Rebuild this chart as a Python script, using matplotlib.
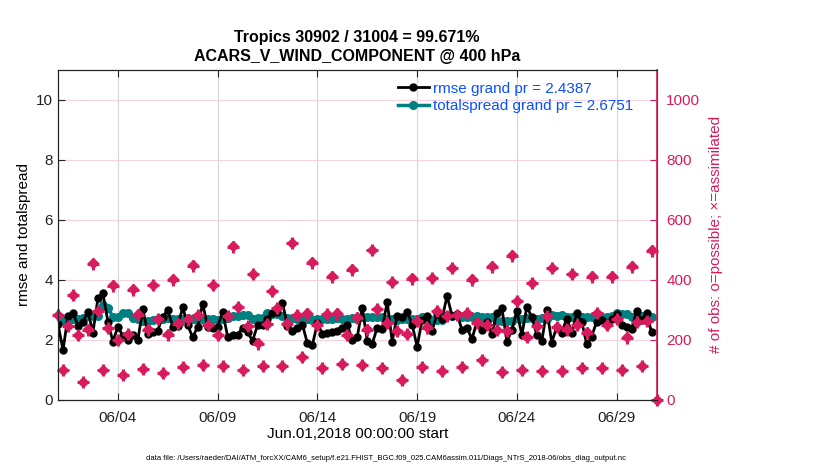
#!/usr/bin/env python3

import matplotlib
matplotlib.use("Agg")
import matplotlib.pyplot as plt
import matplotlib.dates as mdates
import numpy as np
import pandas as pd

plt.rcParams['font.family'] = ['Liberation Sans', 'DejaVu Sans']

# 6-hourly bins, June 2018 (last bin has no obs)
times = pd.date_range("2018-06-01 00:00", "2018-07-01 00:00", freq="6h")

# rmse and totalspread per bin
rmse = [2.51, 1.65, 2.78, 2.89, 2.45, 2.60, 2.93, 2.23, 3.37, 3.54,
        2.60, 1.93, 2.43, 2.12, 1.98, 2.15, 1.98, 3.02, 2.20, 2.26,
        2.30, 2.76, 2.98, 2.43, 2.45, 3.07, 2.48, 2.07, 2.43, 3.20,
        2.43, 2.38, 2.43, 2.93, 2.10, 2.15, 2.15, 2.40, 2.26, 1.95,
        2.48, 2.50, 2.70, 2.87, 2.93, 3.23, 2.45, 2.28, 2.40, 2.50,
        1.87, 1.82, 2.54, 2.20, 2.22, 2.26, 2.30, 2.40, 2.50, 1.98,
        2.08, 3.06, 1.96, 1.86, 2.40, 2.35, 3.26, 1.93, 2.80, 2.75,
        2.93, 2.50, 1.76, 2.65, 2.80, 2.30, 2.85, 2.70, 3.45, 2.80,
        2.85, 2.32, 2.38, 2.02, 2.60, 2.32, 2.60, 2.20, 2.90, 3.04,
        1.93, 2.32, 2.95, 2.15, 3.09, 2.75, 2.15, 1.95, 2.98, 1.90,
        2.43, 2.23, 2.70, 2.23, 2.87, 2.60, 1.84, 2.10, 2.60, 2.65,
        2.55, 2.70, 2.85, 2.50, 2.42, 2.35, 2.95, 2.65, 2.90, 2.24,
        np.nan]

spread = [2.67, 2.65, 2.65, 2.68, 2.68, 2.72, 2.80, 2.78, 2.80, 3.15,
          3.05, 2.76, 2.74, 2.87, 2.87, 2.72, 2.70, 2.62, 2.62, 2.65,
          2.68, 2.70, 2.72, 2.70, 2.68, 2.70, 2.72, 2.68, 2.66, 2.70,
          2.70, 2.68, 2.66, 2.70, 2.71, 2.78, 2.78, 2.82, 2.82, 2.67,
          2.72, 2.72, 2.88, 2.85, 2.85, 2.77, 2.73, 2.73, 2.68, 2.68,
          2.68, 2.65, 2.70, 2.70, 2.70, 2.70, 2.72, 2.70, 2.70, 2.72,
          2.70, 2.75, 2.76, 2.74, 2.75, 2.76, 2.68, 2.68, 2.66, 2.68,
          2.67, 2.69, 2.68, 2.76, 2.76, 2.65, 2.65, 2.66, 2.82, 2.80,
          2.82, 2.76, 2.75, 2.76, 2.77, 2.75, 2.74, 2.75, 2.62, 2.63,
          2.62, 2.63, 2.71, 2.70, 2.72, 2.71, 2.70, 2.72, 2.70, 2.82,
          2.80, 2.82, 2.76, 2.75, 2.77, 2.76, 2.75, 2.76, 2.74, 2.76,
          2.75, 2.77, 2.87, 2.86, 2.85, 2.76, 2.75, 2.77, 2.76, 2.75,
          np.nan]

# number of observations possible / assimilated per bin
nposs = [282, 98, 245, 350, 215, 57, 234, 454, 295, 98,
         239, 382, 200, 82, 220, 367, 284, 102, 234, 382,
         270, 89, 217, 402, 254, 109, 267, 448, 282, 115,
         250, 382, 215, 112, 278, 512, 309, 98, 246, 420,
         187, 112, 252, 362, 306, 112, 254, 523, 282, 143,
         287, 457, 248, 104, 285, 412, 287, 117, 215, 435,
         274, 115, 234, 500, 302, 104, 256, 393, 229, 65,
         218, 404, 262, 107, 241, 406, 295, 95, 278, 440,
         282, 109, 290, 402, 257, 132, 248, 445, 232, 93,
         229, 482, 329, 100, 209, 390, 246, 95, 278, 440,
         243, 95, 234, 420, 248, 104, 224, 412, 290, 106,
         248, 412, 268, 100, 207, 445, 260, 112, 262, 498,
         0]
nused = [281, 98, 244, 348, 215, 57, 233, 452, 294, 98,
         238, 380, 200, 82, 219, 366, 283, 102, 233, 381,
         269, 89, 216, 400, 253, 109, 266, 446, 281, 115,
         249, 381, 214, 112, 277, 510, 308, 98, 245, 418,
         186, 112, 251, 361, 305, 112, 253, 521, 281, 143,
         286, 455, 247, 104, 284, 410, 286, 117, 214, 433,
         273, 115, 233, 498, 301, 104, 255, 392, 228, 65,
         217, 402, 261, 107, 240, 405, 294, 95, 277, 438,
         281, 109, 289, 400, 256, 132, 247, 443, 231, 93,
         228, 480, 328, 100, 208, 389, 245, 95, 277, 438,
         242, 95, 233, 418, 247, 104, 223, 410, 289, 106,
         247, 410, 267, 100, 206, 443, 259, 112, 261, 496,
         0]

rmse_grand = 2.4387
spread_grand = 2.6751
red = '#d81b5c'
teal = '#008080'
blue = '#0a50ff'

fig = plt.figure(figsize=(8.3, 4.7), dpi=100)
ax = fig.add_axes([0.0699, 0.15, 0.7211, 0.702])
ax2 = ax.twinx()

l1, = ax.plot(times, rmse, '-o', color='black', lw=2, ms=5, zorder=3,
              label='rmse grand pr = %.4f' % rmse_grand)
l2, = ax.plot(times, spread, '-o', color=teal, lw=2.5, ms=5.5, zorder=2,
              label='totalspread grand pr = %.4f' % spread_grand)

# possible (o) and assimilated (x) sit on top of each other
ax2.plot(times, nposs, 'D', color=red, ms=5.5, mec=red, clip_on=False)
ax2.plot(times, nused, '+', color=red, ms=8, mew=2.2, clip_on=False)

ax.set_xlim(times[0], times[-1])
ax.set_ylim(0, 11)
ax2.set_ylim(0, 1100)
ax.set_yticks([0, 2, 4, 6, 8, 10])
ax2.set_yticks([0, 200, 400, 600, 800, 1000])

ax.xaxis.set_major_locator(mdates.DayLocator(bymonthday=[4, 9, 14, 19, 24, 29]))
ax.xaxis.set_major_formatter(mdates.DateFormatter('%m/%d'))

ax.grid(axis='x', color='#d6d6d6', lw=0.8)
ax.grid(axis='y', color='#f6d3df', lw=0.8)
ax.set_axisbelow(True)

ax.tick_params(axis='both', direction='in', length=5, labelsize=11, top=True,
               colors='#222222')
ax.tick_params(axis='x', pad=8)
ax2.tick_params(axis='y', direction='in', length=5, labelsize=11,
                colors=red, pad=7)
for s in ['left', 'bottom', 'top']:
    ax2.spines[s].set_color('#222222')
ax2.spines['right'].set_color(red)
ax2.spines['right'].set_linewidth(1.2)

ax.set_ylabel('rmse and totalspread', fontsize=11)
ax2.set_ylabel('# of obs: o=possible; \u00d7=assimilated', fontsize=11, color=red,
               labelpad=6)
ax.set_xlabel('Jun.01,2018 00:00:00 start', fontsize=11, labelpad=2)

leg = ax2.legend(handles=[l1, l2], loc='upper left', bbox_to_anchor=(0.545, 1.005),
                 frameon=False, fontsize=11, handlelength=2.0, handletextpad=0.3,
                 labelspacing=0.25)
for t in leg.get_texts():
    t.set_color(blue)

fig.text(0.430, 0.921, 'Tropics 30902 / 31004 = 99.671%', ha='center', va='center',
         fontsize=11.5, fontweight='bold')
fig.text(0.430, 0.879, 'ACARS_V_WIND_COMPONENT @ 400 hPa', ha='center', va='center',
         fontsize=11.5, fontweight='bold')

fig.text(146 / 830, 1 - 458 / 470,
         'data file: /Users/raeder/DAI/ATM_forcXX/CAM6_setup/f.e21.FHIST_BGC.f09_025.'
         'CAM6assim.011/Diags_NTrS_2018-06/obs_diag_output.nc',
         ha='left', va='center', fontsize=5.5)

fig.savefig('out.png', dpi=100)
